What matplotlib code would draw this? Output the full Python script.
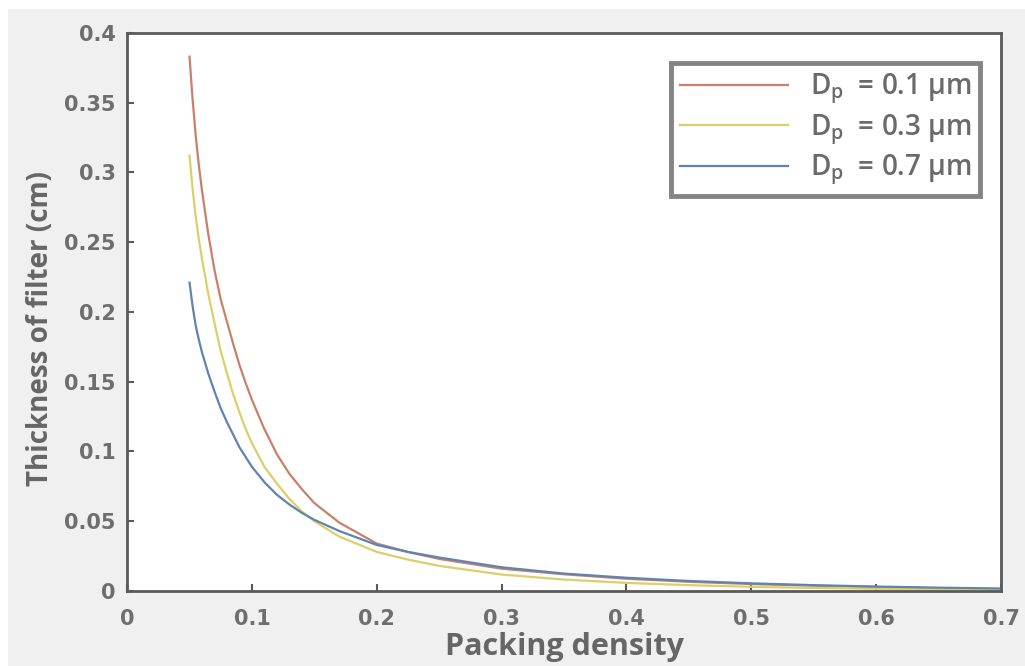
import matplotlib
matplotlib.use('Agg')
import matplotlib.pyplot as plt
from matplotlib.patches import Rectangle

# packing density (x) and filter thickness (cm)
packing = [0.05, 0.0525, 0.055, 0.0575, 0.06, 0.065, 0.07, 0.075, 0.08, 0.085, 0.09, 0.095,
           0.10, 0.11, 0.12, 0.13, 0.14, 0.15, 0.17, 0.20, 0.225, 0.25, 0.30, 0.35, 0.40,
           0.45, 0.50, 0.55, 0.60, 0.65, 0.70]
thick_01 = [0.383, 0.352, 0.326, 0.305, 0.287, 0.256, 0.230, 0.209, 0.193, 0.177, 0.162, 0.149,
            0.137, 0.116, 0.098, 0.084, 0.073, 0.063, 0.049, 0.034, 0.028, 0.023, 0.016, 0.012,
            0.0088, 0.0066, 0.005, 0.0038, 0.0028, 0.002, 0.0013]
thick_03 = [0.312, 0.288, 0.268, 0.252, 0.238, 0.213, 0.192, 0.172, 0.156, 0.141, 0.128, 0.116,
            0.106, 0.089, 0.077, 0.066, 0.057, 0.050, 0.039, 0.028, 0.0225, 0.018, 0.0118, 0.0082,
            0.0058, 0.0042, 0.003, 0.0022, 0.0016, 0.0011, 0.0008]
thick_07 = [0.221, 0.204, 0.190, 0.180, 0.171, 0.156, 0.143, 0.131, 0.121, 0.112, 0.103, 0.096,
            0.089, 0.078, 0.069, 0.062, 0.056, 0.051, 0.043, 0.033, 0.028, 0.024, 0.017, 0.0125,
            0.0095, 0.0072, 0.0055, 0.0042, 0.0032, 0.0024, 0.0018]

labels = ['D$_\\mathregular{p}$  = 0.1 µm', 'D$_\\mathregular{p}$  = 0.3 µm', 'D$_\\mathregular{p}$  = 0.7 µm']
colors = ['#c8806a', '#dccf6a', '#5f84b0']

xticks = [0, 0.1, 0.2, 0.3, 0.4, 0.5, 0.6, 0.7]
yticks = [0, 0.05, 0.1, 0.15, 0.2, 0.25, 0.3, 0.35, 0.4]

fig = plt.figure(figsize=(10.25, 6.66), dpi=100, facecolor='white')
# grey backdrop of the screenshot, with the thin white margin top/left
fig.patches.append(Rectangle((8 / 1025, 0), 1, 1 - 9 / 666, transform=fig.transFigure,
                             facecolor='#f0f0f0', edgecolor='none', zorder=-10))
ax = fig.add_axes([0.124, 0.1126, 0.8526, 0.8379])
ax.set_facecolor('white')

for ys, lab, c in zip([thick_01, thick_03, thick_07], labels, colors):
    ax.plot(packing, ys, color=c, lw=1.6, label=lab)

ax.set_xlim(0, 0.7)
ax.set_ylim(0, 0.4)
ax.set_xticks(xticks)
ax.set_xticklabels(['0' if t == 0 else f'{t:g}' for t in xticks])
ax.set_yticks(yticks)
ax.set_yticklabels(['0' if t == 0 else f'{t:g}' for t in yticks])

for s in ax.spines.values():
    s.set_color('#5a5a5a')
    s.set_linewidth(2)
ax.tick_params(direction='in', length=5, width=1.5, color='#5a5a5a',
               labelsize=15, labelcolor='#6e6e6e')
ax.tick_params(axis='x', pad=13)
ax.tick_params(axis='y', pad=8)
for t in ax.get_xticklabels() + ax.get_yticklabels():
    t.set_fontfamily('DejaVu Sans')
    t.set_fontweight('bold')

ax.set_xlabel('Packing density', fontfamily='Open Sans', fontweight='bold',
              fontsize=22, color='#666666', labelpad=2)
ax.set_ylabel('Thickness of filter (cm)', fontfamily='Open Sans', fontweight='bold',
              fontsize=20, color='#666666')
ax.yaxis.set_label_coords(-0.083, 0.47)

leg = ax.legend(loc='upper right', bbox_to_anchor=(0.976, 0.946), fancybox=False,
                handlelength=3.9, handletextpad=0.8, borderpad=0.3, labelspacing=0.2,
                borderaxespad=0,
                prop={'family': 'Open Sans', 'weight': 'semibold', 'size': 20})
leg.get_frame().set_edgecolor('#666666')
leg.get_frame().set_linewidth(3.5)
for t in leg.get_texts():
    t.set_color('#6a6a6a')

plt.savefig('out.png', dpi=100, facecolor=fig.get_facecolor())
plt.close()
